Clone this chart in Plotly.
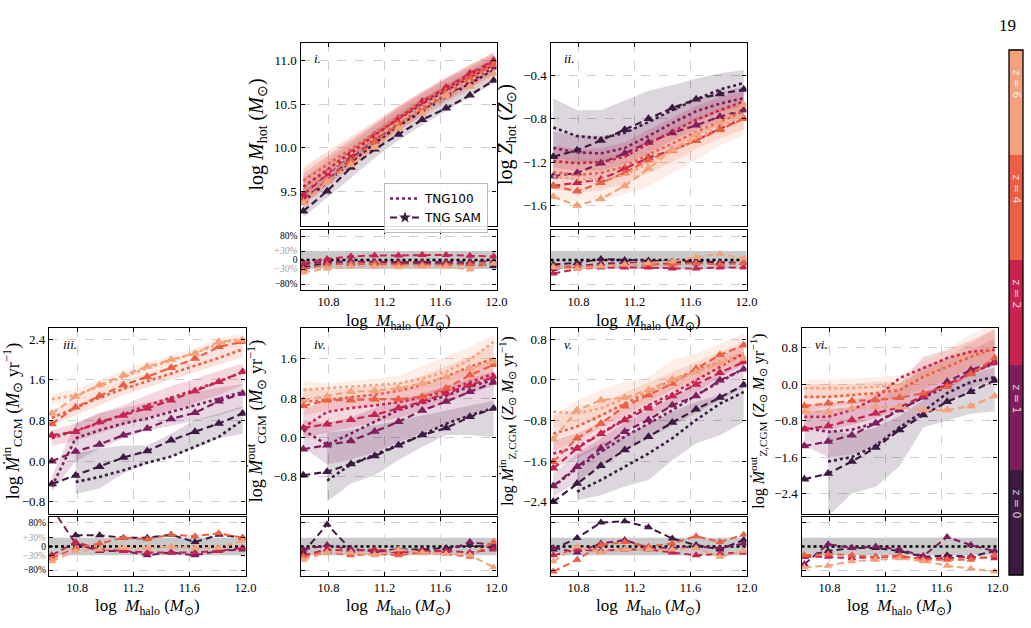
import plotly.graph_objects as go

W, H = 1031, 628

# ---------------- data ----------------
X_HALO = [10.62, 10.79, 10.96, 11.13, 11.30, 11.47, 11.64, 11.81, 11.98]
REDSHIFT_LABELS = ["z = 0", "z = 1", "z = 2", "z = 4", "z = 6"]
Z_COLORS = ["#3d1a42", "#7e1e5c", "#c8224f", "#ec5f43", "#f3a27c"]
X_TICKS = [10.8, 11.2, 11.6, 12.0]
X_TICK_TEXT = ["10.8", "11.2", "11.6", "12.0"]
RATIO_TICKS = [-0.8, -0.3, 0.0, 0.3, 0.8]
RATIO_TICK_TEXT = ["−80%", "<span style='color:#a0a0a0'><i>−30%</i></span>", "0",
                   "<span style='color:#a0a0a0'><i>+30%</i></span>", "80%"]

# panel i : hot gas mass
MHOT_TNG = [[9.38, 9.60, 9.83, 10.05, 10.25, 10.42, 10.58, 10.73, 10.90],
            [9.50, 9.70, 9.92, 10.12, 10.32, 10.50, 10.66, 10.80, 10.95],
            [9.55, 9.75, 9.95, 10.15, 10.34, 10.52, 10.68, 10.83, 10.98],
            [9.62, 9.80, 9.98, 10.16, 10.35, 10.53, 10.68, 10.83, 10.97],
            [9.50, 9.72, 9.93, 10.12, 10.30, 10.47, 10.62, 10.77, 10.92]]
MHOT_LO = [[9.20, 9.42, 9.65, 9.88, 10.08, 10.26, 10.42, 10.58, 10.74],
           [9.35, 9.55, 9.78, 10.00, 10.20, 10.37, 10.53, 10.68, 10.84],
           [9.40, 9.62, 9.83, 10.03, 10.22, 10.40, 10.56, 10.72, 10.87],
           [9.42, 9.65, 9.85, 10.04, 10.23, 10.41, 10.56, 10.71, 10.86],
           [9.30, 9.55, 9.77, 9.97, 10.16, 10.34, 10.50, 10.65, 10.80]]
MHOT_HI = [[9.55, 9.75, 9.98, 10.20, 10.40, 10.57, 10.73, 10.88, 11.03],
           [9.65, 9.85, 10.05, 10.25, 10.45, 10.62, 10.78, 10.92, 11.06],
           [9.70, 9.90, 10.08, 10.28, 10.47, 10.64, 10.80, 10.95, 11.09],
           [9.78, 9.95, 10.12, 10.30, 10.48, 10.65, 10.80, 10.95, 11.08],
           [9.75, 9.90, 10.10, 10.28, 10.45, 10.62, 10.78, 10.93, 11.10]]
MHOT_SAM = [[9.27, 9.50, 9.77, 9.98, 10.15, 10.32, 10.45, 10.60, 10.77],
            [9.40, 9.62, 9.87, 10.08, 10.27, 10.45, 10.60, 10.75, 10.92],
            [9.46, 9.70, 9.93, 10.14, 10.33, 10.53, 10.69, 10.85, 11.00],
            [9.38, 9.62, 9.85, 10.07, 10.27, 10.45, 10.62, 10.78, 10.95],
            [9.36, 9.61, 9.80, 10.00, 10.22, 10.39, 10.59, 10.70, 10.85]]
MHOT_RATIO = [[-0.25, -0.10, -0.12, -0.12, -0.12, -0.12, -0.12, -0.12, -0.20],
              [-0.15, -0.05, -0.05, -0.07, -0.07, -0.07, -0.07, -0.07, -0.05],
              [-0.10, 0.03, 0.12, 0.15, 0.15, 0.17, 0.17, 0.14, 0.12],
              [-0.30, -0.15, -0.12, -0.12, -0.15, -0.15, -0.15, -0.15, -0.12],
              [-0.42, -0.28, -0.22, -0.22, -0.24, -0.22, -0.22, -0.32, -0.12]]
MHOT_TICKS = [9.5, 10.0, 10.5, 11.0]
MHOT_TICK_TEXT = ["9.5", "10.0", "10.5", "11.0"]

# panel ii : hot gas metallicity
ZHOT_TNG = [[-0.88, -0.96, -0.98, -0.93, -0.83, -0.72, -0.62, -0.53, -0.47],
            [-1.07, -1.11, -1.12, -1.07, -0.96, -0.84, -0.73, -0.66, -0.61],
            [-1.19, -1.21, -1.20, -1.15, -1.03, -0.92, -0.81, -0.72, -0.64],
            [-1.29, -1.32, -1.30, -1.24, -1.13, -1.03, -0.92, -0.83, -0.73],
            [-1.33, -1.36, -1.36, -1.32, -1.21, -1.10, -0.98, -0.87, -0.77]]
ZHOT_LO = [[-1.15, -1.20, -1.20, -1.12, -1.02, -0.92, -0.82, -0.74, -0.68],
           [-1.25, -1.28, -1.28, -1.22, -1.12, -1.00, -0.90, -0.82, -0.76],
           [-1.35, -1.36, -1.35, -1.30, -1.20, -1.08, -0.96, -0.86, -0.78],
           [-1.45, -1.48, -1.46, -1.40, -1.30, -1.20, -1.08, -0.98, -0.90],
           [-1.55, -1.56, -1.55, -1.50, -1.42, -1.30, -1.18, -1.05, -0.95]]
ZHOT_HI = [[-0.61, -0.72, -0.72, -0.63, -0.54, -0.49, -0.43, -0.38, -0.35],
           [-0.92, -0.95, -0.96, -0.92, -0.82, -0.72, -0.62, -0.55, -0.50],
           [-1.05, -1.08, -1.07, -1.02, -0.90, -0.79, -0.68, -0.60, -0.54],
           [-1.15, -1.18, -1.16, -1.10, -0.98, -0.88, -0.78, -0.70, -0.63],
           [-1.15, -1.20, -1.20, -1.16, -1.05, -0.94, -0.82, -0.72, -0.62]]
ZHOT_SAM = [[-1.15, -1.09, -1.00, -0.90, -0.80, -0.70, -0.62, -0.57, -0.53],
            [-1.33, -1.30, -1.21, -1.12, -1.02, -0.93, -0.86, -0.78, -0.72],
            [-1.42, -1.39, -1.36, -1.26, -1.16, -1.09, -1.00, -0.89, -0.80],
            [-1.42, -1.47, -1.39, -1.30, -1.18, -1.09, -1.00, -0.90, -0.80],
            [-1.52, -1.60, -1.54, -1.42, -1.26, -1.09, -0.95, -0.83, -0.67]]
ZHOT_RATIO = [[-0.15, -0.10, 0.03, 0.00, -0.02, -0.05, -0.05, -0.08, -0.10],
              [-0.30, -0.20, -0.12, -0.10, -0.10, -0.12, -0.12, -0.12, -0.10],
              [-0.45, -0.30, -0.25, -0.25, -0.25, -0.28, -0.28, -0.25, -0.25],
              [-0.22, -0.20, -0.20, -0.15, -0.15, -0.15, -0.10, -0.15, -0.10],
              [-0.25, -0.30, -0.22, -0.15, -0.10, -0.05, 0.10, 0.20, 0.05]]
ZHOT_TICKS = [-1.6, -1.2, -0.8, -0.4]
ZHOT_TICK_TEXT = ["−1.6", "−1.2", "−0.8", "−0.4"]

# panel iii : CGM inflow rate
MIN_TNG = [[None, -0.41, -0.31, -0.18, -0.03, 0.09, 0.28, 0.48, 0.81],
           [-0.50, 0.45, 0.61, 0.74, 0.84, 0.97, 1.10, 1.23, 1.36],
           [0.45, 0.60, 0.75, 0.92, 1.10, 1.25, 1.40, 1.57, 1.75],
           [0.85, 1.05, 1.25, 1.42, 1.57, 1.72, 1.87, 2.03, 2.20],
           [1.22, 1.30, 1.47, 1.66, 1.83, 1.98, 2.13, 2.30, 2.42]]
MIN_LO = [[None, -0.64, -0.54, -0.24, -0.05, 0.09, 0.25, 0.45, 0.54],
          [-0.60, 0.00, 0.25, 0.45, 0.60, 0.70, 0.80, 0.90, 1.05],
          [0.30, 0.40, 0.55, 0.70, 0.85, 1.00, 1.15, 1.30, 1.50],
          [0.70, 0.90, 1.10, 1.30, 1.45, 1.60, 1.75, 1.90, 2.05],
          [1.12, 1.20, 1.38, 1.56, 1.72, 1.88, 2.02, 2.20, 2.30]]
MIN_HI = [[None, 0.15, 0.25, 0.31, 0.31, 0.54, 0.81, 0.94, 1.08],
          [-0.30, 0.75, 0.95, 1.05, 1.15, 1.25, 1.35, 1.45, 1.52],
          [0.61, 0.74, 0.94, 1.10, 1.30, 1.48, 1.62, 1.78, 1.92],
          [1.00, 1.20, 1.40, 1.58, 1.72, 1.88, 2.03, 2.20, 2.35],
          [1.32, 1.42, 1.60, 1.78, 1.94, 2.08, 2.22, 2.42, 2.50]]
MIN_SAM = [[-0.45, -0.28, -0.11, 0.07, 0.20, 0.41, 0.58, 0.74, 0.94],
           [0.00, 0.19, 0.33, 0.51, 0.64, 0.83, 0.95, 1.18, 1.33],
           [0.51, 0.58, 0.77, 0.90, 1.04, 1.20, 1.38, 1.56, 1.76],
           [0.73, 1.06, 1.28, 1.50, 1.66, 1.84, 2.02, 2.25, 2.35],
           [0.94, 1.27, 1.50, 1.69, 1.86, 2.00, 2.12, 2.35, 2.38]]
MIN_RATIO = [[None, 0.38, 0.38, 0.30, 0.30, 0.40, 0.15, 0.40, 0.30],
             [1.30, 0.10, -0.15, -0.15, -0.30, -0.20, -0.30, -0.15, -0.10],
             [-0.30, 0.15, -0.10, -0.15, -0.20, -0.20, -0.20, -0.15, -0.05],
             [-0.40, -0.05, 0.10, 0.30, 0.25, 0.40, 0.35, 0.45, 0.30],
             [-0.50, -0.15, -0.10, -0.05, -0.05, 0.00, -0.05, -0.05, 0.20]]
MIN_TICKS = [-0.8, 0.0, 0.8, 1.6, 2.4]
MIN_TICK_TEXT = ["−0.8", "0.0", "0.8", "1.6", "2.4"]

# panel iv : CGM outflow rate
MOUT_TNG = [[None, -0.88, -0.55, -0.35, -0.15, 0.05, 0.28, 0.45, 0.60],
            [0.15, -0.15, 0.08, 0.32, 0.56, 0.70, 0.85, 1.04, 1.17],
            [0.20, 0.52, 0.60, 0.65, 0.72, 0.82, 0.95, 1.12, 1.30],
            [0.73, 0.76, 0.82, 0.87, 0.95, 1.07, 1.24, 1.44, 1.61],
            [0.97, 1.00, 1.03, 1.07, 1.10, 1.20, 1.34, 1.58, 1.95]]
MOUT_LO = [[None, -1.31, -0.94, -0.77, -0.46, -0.19, 0.05, 0.05, 0.01],
           [-0.20, -0.55, -0.45, -0.30, -0.10, 0.10, 0.25, 0.45, 0.65],
           [0.00, 0.10, 0.20, 0.30, 0.40, 0.55, 0.70, 0.90, 1.05],
           [0.45, 0.55, 0.60, 0.65, 0.70, 0.75, 0.90, 1.10, 1.25],
           [0.75, 0.80, 0.85, 0.90, 0.92, 0.98, 1.10, 1.30, 1.50]]
MOUT_HI = [[None, 0.10, 0.15, 0.25, 0.35, 0.45, 0.55, 0.65, 0.75],
           [0.35, 0.30, 0.40, 0.60, 0.75, 0.90, 1.05, 1.20, 1.35],
           [0.55, 0.80, 0.85, 0.90, 0.95, 1.05, 1.20, 1.40, 1.55],
           [1.00, 0.95, 1.00, 1.05, 1.10, 1.25, 1.45, 1.65, 1.90],
           [1.15, 1.10, 1.15, 1.20, 1.25, 1.45, 1.65, 1.85, 2.10]]
MOUT_SAM = [[-0.77, -0.70, -0.54, -0.38, -0.16, 0.05, 0.19, 0.42, 0.59],
            [-0.24, -0.16, -0.07, 0.12, 0.32, 0.55, 0.73, 0.93, 1.12],
            [0.19, 0.27, 0.36, 0.46, 0.60, 0.73, 0.90, 1.07, 1.23],
            [0.64, 0.76, 0.76, 0.78, 0.78, 0.83, 1.00, 1.27, 1.48],
            [0.76, 0.84, 0.93, 0.95, 1.00, 1.10, 1.23, 1.41, 1.55]]
MOUT_RATIO = [[-0.20, 0.75, -0.10, -0.15, -0.10, -0.10, -0.05, 0.05, -0.05],
              [-0.10, 0.05, -0.10, -0.15, -0.20, -0.15, -0.15, 0.15, 0.05],
              [-0.30, -0.10, -0.15, -0.10, -0.20, -0.15, -0.15, -0.20, -0.10],
              [-0.35, -0.20, -0.30, -0.25, -0.30, -0.20, -0.25, -0.35, 0.15],
              [-0.45, -0.20, -0.20, -0.30, -0.10, -0.20, -0.25, -0.30, -0.70]]
MOUT_TICKS = [-0.8, 0.0, 0.8, 1.6]
MOUT_TICK_TEXT = ["−0.8", "0.0", "0.8", "1.6"]

# panel v : CGM metal inflow rate
MZIN_TNG = [[None, -2.20, -1.97, -1.71, -1.45, -1.15, -0.79, -0.47, -0.24],
            [-2.10, -1.74, -1.42, -1.12, -0.86, -0.60, -0.30, -0.04, 0.22],
            [-1.45, -1.32, -1.06, -0.76, -0.50, -0.27, -0.01, 0.26, 0.52],
            [-1.06, -0.92, -0.70, -0.47, -0.24, -0.01, 0.19, 0.35, 0.52],
            [-0.63, -0.66, -0.56, -0.37, -0.24, -0.04, 0.16, 0.35, 0.52]]
MZIN_LO = [[None, -2.37, -2.27, -2.10, -1.97, -1.58, -1.25, -1.09, -0.83],
           [-2.30, -2.00, -1.70, -1.40, -1.15, -0.90, -0.65, -0.40, -0.15],
           [-1.75, -1.55, -1.30, -1.00, -0.75, -0.50, -0.25, 0.05, 0.30],
           [-1.40, -1.20, -0.95, -0.70, -0.45, -0.20, 0.00, 0.20, 0.35],
           [-0.95, -0.90, -0.75, -0.55, -0.40, -0.20, -0.05, 0.15, 0.30]]
MZIN_HI = [[None, -1.50, -1.25, -1.09, -0.86, -0.63, -0.43, -0.30, -0.14],
           [-1.85, -1.45, -1.15, -0.85, -0.60, -0.35, -0.10, 0.15, 0.40],
           [-1.20, -1.05, -0.82, -0.55, -0.30, -0.05, 0.20, 0.45, 0.70],
           [-0.70, -0.60, -0.45, -0.25, -0.05, 0.15, 0.35, 0.55, 0.75],
           [-0.70, -0.40, -0.20, -0.04, 0.06, 0.39, 0.52, 0.71, 0.91]]
MZIN_SAM = [[-2.40, -2.04, -1.69, -1.38, -1.12, -0.84, -0.58, -0.35, -0.10],
            [-2.09, -1.71, -1.35, -1.02, -0.79, -0.50, -0.32, -0.01, 0.21],
            [-1.74, -1.35, -1.06, -0.79, -0.56, -0.32, -0.09, 0.14, 0.35],
            [-1.61, -1.15, -0.86, -0.52, -0.30, -0.07, 0.22, 0.49, 0.68],
            [-1.17, -0.60, -0.40, -0.35, -0.20, 0.01, 0.16, 0.32, 0.42]]
MZIN_RATIO = [[-0.10, 0.29, 0.81, 0.86, 0.65, 0.27, 0.05, -0.10, 0.22],
              [-0.05, -0.20, 0.10, 0.22, -0.05, -0.05, 0.00, -0.05, 0.10],
              [-0.30, -0.10, -0.15, -0.10, -0.10, -0.20, -0.30, -0.25, -0.20],
              [-0.85, -0.45, 0.05, 0.15, 0.00, 0.10, 0.35, 0.15, 0.40],
              [-0.50, 0.00, -0.20, -0.10, -0.10, -0.10, -0.05, -0.35, -0.15]]
MZIN_TICKS = [-2.4, -1.6, -0.8, 0.0, 0.8]
MZIN_TICK_TEXT = ["−2.4", "−1.6", "−0.8", "0.0", "0.8"]

# panel vi : CGM metal outflow rate
MZOUT_TNG = [[None, -1.70, -1.60, -1.35, -0.95, -0.60, -0.20, 0.05, 0.15],
             [-0.95, -1.05, -1.00, -0.85, -0.55, -0.30, -0.05, 0.25, 0.45],
             [-0.72, -0.72, -0.57, -0.31, 0.13, 0.35, 0.57, 0.71, 0.75],
             [-0.28, -0.28, -0.24, -0.20, -0.13, 0.16, 0.38, 0.60, 0.79],
             [-0.09, -0.09, -0.09, -0.06, -0.02, 0.24, 0.42, 0.68, 0.79]]
MZOUT_LO = [[None, -2.90, -2.40, -2.25, -1.80, -0.95, -0.80, -0.65, -0.60],
            [-1.35, -1.60, -1.55, -1.35, -1.00, -0.70, -0.40, -0.10, 0.10],
            [-1.00, -1.00, -0.90, -0.75, -0.55, -0.25, 0.00, 0.25, 0.45],
            [-0.60, -0.50, -0.45, -0.40, -0.30, -0.10, 0.10, 0.35, 0.50],
            [-0.30, -0.30, -0.30, -0.30, -0.30, -0.10, 0.10, 0.40, 0.50]]
MZOUT_HI = [[None, -1.00, -1.10, -0.95, -0.70, -0.35, 0.00, 0.25, 0.35],
            [-0.60, -0.55, -0.50, -0.35, -0.10, 0.40, 0.55, 0.75, 1.00],
            [-0.45, -0.45, -0.35, -0.20, 0.00, 0.60, 0.75, 0.95, 1.20],
            [0.00, 0.00, 0.00, 0.05, 0.05, 0.30, 0.60, 0.90, 1.20],
            [0.10, 0.10, 0.12, 0.15, 0.20, 0.50, 0.75, 1.10, 1.30]]
MZOUT_SAM = [[-2.09, -1.96, -1.70, -1.39, -1.01, -0.68, -0.39, -0.17, 0.08],
             [-1.36, -1.26, -1.12, -0.86, -0.57, -0.29, 0.05, 0.31, 0.49],
             [-0.99, -0.92, -0.79, -0.64, -0.51, -0.26, -0.02, 0.24, 0.46],
             [-0.48, -0.42, -0.37, -0.35, -0.30, -0.20, -0.06, 0.22, 0.57],
             [-0.61, -0.61, -0.53, -0.50, -0.51, -0.57, -0.57, -0.48, -0.26]]
MZOUT_RATIO = [[-0.35, -0.15, -0.05, -0.05, -0.15, -0.35, -0.30, -0.35, -0.15],
               [-0.60, 0.08, -0.05, 0.00, -0.10, -0.32, 0.32, 0.05, -0.16],
               [-0.35, -0.35, -0.40, -0.35, -0.35, -0.40, -0.40, -0.35, -0.40],
               [-0.30, -0.25, -0.30, -0.35, -0.30, -0.45, -0.45, -0.45, -0.30],
               [-0.70, -0.65, -0.50, -0.45, -0.40, -0.50, -0.65, -0.75, -0.85]]
MZOUT_TICKS = [-2.4, -1.6, -0.8, 0.0, 0.8]
MZOUT_TICK_TEXT = ["−2.4", "−1.6", "−0.8", "0.0", "0.8"]

# ---------------- layout helpers ----------------
SERIF = "Liberation Serif"
COLS = {0: (49, 245.5), 1: (300.5, 496.5), 2: (550.5, 746.5), 3: (801.5, 997.5)}
ROWS = {0: (43, 226, 230, 290), 1: (328, 514, 517, 576)}
XTITLE_TOP = {0: 309, 1: 594}


def px_x(p):
    return p / W


def px_y(p):
    return 1 - p / H


def rgba(hexc, a):
    h = hexc.lstrip("#")
    return "rgba(%d,%d,%d,%.2f)" % (int(h[0:2], 16), int(h[2:4], 16), int(h[4:6], 16), a)


def ax_ids(n):
    s = "" if n == 1 else str(n)
    return "x" + s, "y" + s, "xaxis" + s, "yaxis" + s


PANELS = [
    dict(label="i.", col=1, row=0, tng=MHOT_TNG, lo=MHOT_LO, hi=MHOT_HI, sam=MHOT_SAM, ratio=MHOT_RATIO,
         ticks=MHOT_TICKS, ticktext=MHOT_TICK_TEXT, yrange=[9.1, 11.2], ratio_labels=True, tsize=20,
         title="log <i>M</i><sub>hot</sub> (<i>M</i><sub>⊙</sub>)"),
    dict(label="ii.", col=2, row=0, tng=ZHOT_TNG, lo=ZHOT_LO, hi=ZHOT_HI, sam=ZHOT_SAM, ratio=ZHOT_RATIO,
         ticks=ZHOT_TICKS, ticktext=ZHOT_TICK_TEXT, yrange=[-1.79, -0.10], ratio_labels=False, tsize=20,
         title="log <i>Z</i><sub>hot</sub> (<i>Z</i><sub>⊙</sub>)"),
    dict(label="iii.", col=0, row=1, tng=MIN_TNG, lo=MIN_LO, hi=MIN_HI, sam=MIN_SAM, ratio=MIN_RATIO,
         ticks=MIN_TICKS, ticktext=MIN_TICK_TEXT, yrange=[-1.04, 2.62], ratio_labels=True, tsize=18,
         title="log <i>Ṁ</i><sup>in</sup><sub>CGM</sub> (<i>M</i><sub>⊙</sub> yr<sup>−1</sup>)"),
    dict(label="iv.", col=1, row=1, tng=MOUT_TNG, lo=MOUT_LO, hi=MOUT_HI, sam=MOUT_SAM, ratio=MOUT_RATIO,
         ticks=MOUT_TICKS, ticktext=MOUT_TICK_TEXT, yrange=[-1.56, 2.23], ratio_labels=False, tsize=18,
         title="log <i>Ṁ</i><sup>out</sup><sub>CGM</sub> (<i>M</i><sub>⊙</sub> yr<sup>−1</sup>)"),
    dict(label="v.", col=2, row=1, tng=MZIN_TNG, lo=MZIN_LO, hi=MZIN_HI, sam=MZIN_SAM, ratio=MZIN_RATIO,
         ticks=MZIN_TICKS, ticktext=MZIN_TICK_TEXT, yrange=[-2.64, 1.02], ratio_labels=False, tsize=16,
         title="log <i>Ṁ</i><sup>in</sup><sub>Z,CGM</sub> (<i>Z</i><sub>⊙</sub> <i>M</i><sub>⊙</sub> yr<sup>−1</sup>)"),
    dict(label="vi.", col=3, row=1, tng=MZOUT_TNG, lo=MZOUT_LO, hi=MZOUT_HI, sam=MZOUT_SAM, ratio=MZOUT_RATIO,
         ticks=MZOUT_TICKS, ticktext=MZOUT_TICK_TEXT, yrange=[-2.85, 1.23], ratio_labels=False, tsize=16,
         title="log <i>Ṁ</i><sup>out</sup><sub>Z,CGM</sub> (<i>Z</i><sub>⊙</sub> <i>M</i><sub>⊙</sub> yr<sup>−1</sup>)"),
]

fig = go.Figure()
layout = dict(width=W, height=H, margin=dict(l=0, r=0, t=0, b=0),
              paper_bgcolor="white", plot_bgcolor="white",
              font=dict(family=SERIF, size=12, color="black"),
              showlegend=True)
shapes, annotations = [], []

AX_COMMON = dict(showline=True, linecolor="black", linewidth=1.3, mirror="allticks",
                 ticks="inside", ticklen=4, tickwidth=1, tickcolor="black",
                 gridcolor="#cfcfcf", griddash="dash", gridwidth=1, zeroline=False,
                 automargin=False, tickfont=dict(family=SERIF, size=13))

for k, p in enumerate(PANELS):
    xm, ym, xmk, ymk = ax_ids(2 * k + 1)
    xr, yr, xrk, yrk = ax_ids(2 * k + 2)
    c0, c1 = COLS[p["col"]]
    t0, t1, r0, r1 = ROWS[p["row"]]
    xdom = [px_x(c0), px_x(c1)]

    layout[xmk] = dict(AX_COMMON, domain=xdom, anchor=ym, range=[10.6, 12.0],
                       tickvals=X_TICKS, showticklabels=False, showgrid=True)
    layout[ymk] = dict(AX_COMMON, domain=[px_y(t1), px_y(t0)], anchor=xm,
                       range=p["yrange"], tickvals=p["ticks"], ticktext=p["ticktext"],
                       showgrid=True,
                       title=dict(text=p["title"], standoff=5,
                                  font=dict(family=SERIF, size=p["tsize"])))
    layout[xrk] = dict(AX_COMMON, domain=xdom, anchor=yr, range=[10.6, 12.0],
                       tickvals=X_TICKS, ticktext=X_TICK_TEXT, showgrid=True,
                       tickfont=dict(family=SERIF, size=12.5))
    annotations.append(dict(text="log  <i>M</i><sub>halo</sub> (<i>M</i><sub>⊙</sub>)",
                            xref="%s domain" % xr, x=0.5, yref="paper", y=px_y(XTITLE_TOP[p["row"]]),
                            xanchor="center", yanchor="top", showarrow=False,
                            font=dict(family=SERIF, size=17)))
    ratio_y = dict(AX_COMMON, domain=[px_y(r1), px_y(r0)], anchor=xr, range=[-1.0, 1.0])
    if p["ratio_labels"]:
        ratio_y.update(tickvals=RATIO_TICKS, ticktext=RATIO_TICK_TEXT, showgrid=False,
                       tickfont=dict(family=SERIF, size=9.5),
                       minor=dict(tickvals=[-0.8, 0.8], showgrid=True, gridcolor="#cfcfcf",
                                  griddash="dash", ticks=""))
    else:
        ratio_y.update(tickvals=[-0.8, 0.8], showticklabels=False, showgrid=True)
    layout[yrk] = ratio_y

    # ratio panel decorations: +-30% band and zero line
    shapes.append(dict(type="rect", xref="%s domain" % xr, yref=yr, x0=0, x1=1, y0=-0.3, y1=0.3,
                       fillcolor="#c9c9c9", line=dict(width=0), layer="below"))
    shapes.append(dict(type="line", xref="%s domain" % xr, yref=yr, x0=0, x1=1, y0=0, y1=0,
                       line=dict(color="black", width=2.5, dash="dot"), layer="below"))

    # panel label
    annotations.append(dict(text="<i>%s</i>" % p["label"], xref="%s domain" % xm, yref="%s domain" % ym,
                            x=0.06, y=0.965, xanchor="left", yanchor="top", showarrow=False,
                            font=dict(family=SERIF, size=13)))

    for zi in range(5):
        col = Z_COLORS[zi]
        fig.add_trace(go.Scatter(x=X_HALO, y=p["lo"][zi], xaxis=xm, yaxis=ym, mode="lines",
                                 line=dict(width=0, color=rgba(col, 0.0)), showlegend=False,
                                 hoverinfo="skip"))
        fig.add_trace(go.Scatter(x=X_HALO, y=p["hi"][zi], xaxis=xm, yaxis=ym, mode="lines",
                                 line=dict(width=0, color=rgba(col, 0.0)), fill="tonexty",
                                 fillcolor=rgba(col, 0.18), showlegend=False, hoverinfo="skip"))
    for zi in range(5):
        col = Z_COLORS[zi]
        fig.add_trace(go.Scatter(x=X_HALO, y=p["tng"][zi], xaxis=xm, yaxis=ym, mode="lines",
                                 line=dict(color=col, width=2.6, dash="dot"), showlegend=False,
                                 name="TNG100 " + REDSHIFT_LABELS[zi]))
        fig.add_trace(go.Scatter(x=X_HALO, y=p["sam"][zi], xaxis=xm, yaxis=ym, mode="lines+markers",
                                 line=dict(color=col, width=2.2, dash="7px,4px"),
                                 marker=dict(symbol="triangle-up", size=9, color=col),
                                 showlegend=False, name="TNG SAM " + REDSHIFT_LABELS[zi]))
        fig.add_trace(go.Scatter(x=X_HALO, y=p["ratio"][zi], xaxis=xr, yaxis=yr, mode="lines+markers",
                                 line=dict(color=col, width=2.0, dash="7px,4px"),
                                 marker=dict(symbol="triangle-up", size=8, color=col),
                                 showlegend=False, name="ratio " + REDSHIFT_LABELS[zi]))

# legend entries (panel i)
fig.add_trace(go.Scatter(x=[None], y=[None], xaxis="x", yaxis="y", mode="lines", name="TNG100",
                         line=dict(color=Z_COLORS[1], width=2.6, dash="dot")))
fig.add_trace(go.Scatter(x=[None], y=[None], xaxis="x", yaxis="y", mode="lines+markers",
                         name="TNG SAM", line=dict(color=Z_COLORS[0], width=2.2, dash="7px,4px"),
                         marker=dict(symbol="star", size=9, color=Z_COLORS[0])))
layout["legend"] = dict(x=px_x(384), y=px_y(183), xanchor="left", yanchor="top",
                        bgcolor="rgba(255,255,255,0.85)", bordercolor="#bbbbbb", borderwidth=1,
                        font=dict(family="DejaVu Sans", size=12), itemwidth=30,
                        traceorder="normal", tracegroupgap=0)

# discrete redshift colour bar
cb_x0, cb_x1, cb_top, cb_bot = 1009, 1023, 50, 575
seg = (cb_bot - cb_top) / 5.0
for zi in range(5):
    top = cb_top + (4 - zi) * seg
    shapes.append(dict(type="rect", xref="paper", yref="paper", x0=px_x(cb_x0), x1=px_x(cb_x1),
                       y0=px_y(top + seg), y1=px_y(top), fillcolor=Z_COLORS[zi], line=dict(width=0)))
    annotations.append(dict(text=REDSHIFT_LABELS[zi], xref="paper", yref="paper",
                            x=px_x((cb_x0 + cb_x1) / 2), y=px_y(top + seg * 0.32), textangle=90,
                            xanchor="center", yanchor="middle",
                            showarrow=False, font=dict(family="DejaVu Sans", size=11,
                                                       color="rgba(255,255,255,0.8)")))
shapes.append(dict(type="rect", xref="paper", yref="paper", x0=px_x(cb_x0), x1=px_x(cb_x1),
                   y0=px_y(cb_bot), y1=px_y(cb_top), line=dict(color="black", width=1.3)))

annotations.append(dict(text="19", xref="paper", yref="paper", x=px_x(1018), y=px_y(14),
                        showarrow=False, font=dict(family=SERIF, size=17)))

layout["shapes"] = shapes
layout["annotations"] = annotations
fig.update_layout(**layout)
fig.write_html("out.html")
